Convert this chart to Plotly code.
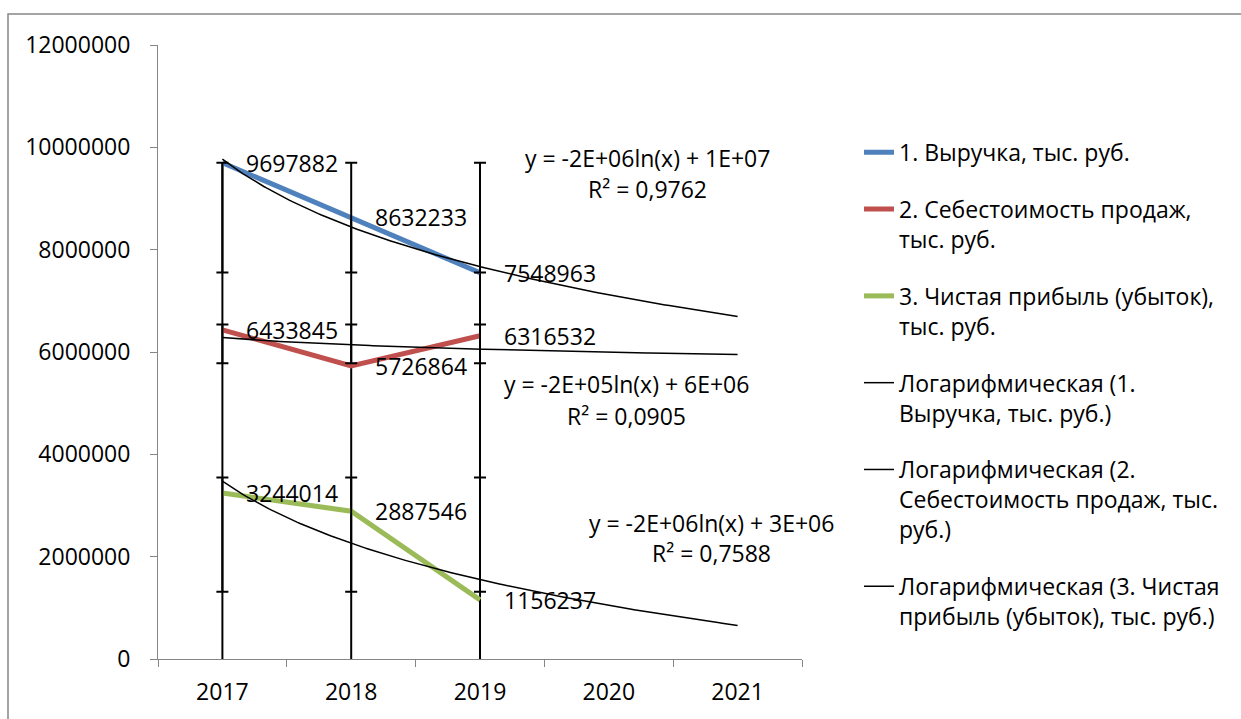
import numpy as np
import plotly.graph_objects as go

# ---------------- data ----------------
years = [2017, 2018, 2019, 2020, 2021]          # category axis (2 forecast periods)
data_years = [2017, 2018, 2019]
revenue = [9697882, 8632233, 7548963]            # 1. Выручка
cost = [6433845, 5726864, 6316532]               # 2. Себестоимость продаж
profit = [3244014, 2887546, 1156237]             # 3. Чистая прибыль (убыток)

series_names = ["1. Выручка, тыс. руб.",
                "2. Себестоимость продаж,<br>тыс. руб.",
                "3. Чистая прибыль (убыток),<br>тыс. руб."]
trend_names = ["Логарифмическая (1.<br>Выручка, тыс. руб.)",
               "Логарифмическая (2.<br>Себестоимость продаж, тыс.<br>руб.)",
               "Логарифмическая (3. Чистая<br>прибыль (убыток), тыс. руб.)"]
y_ticks = [0, 2000000, 4000000, 6000000, 8000000, 10000000, 12000000]

# ---------------- styles ----------------
colors = ["#4F81BD", "#C0504D", "#9BBB59"]
FONT = "Open Sans"
FS = 23
GRAY = "#868686"
series = [revenue, cost, profit]
# equation label positions (x in years, y in values)
eq_pos = [(2020.30, 9.80e6, 9.18e6), (2020.14, 5.38e6, 4.75e6), (2020.80, 2.65e6, 2.07e6)]

fig = go.Figure()

# drop lines (from highest point of each category down to the axis)
dx, dy = [], []
for i, yr in enumerate(data_years):
    top = max(s[i] for s in series)
    dx += [yr, yr, None]
    dy += [0, top, None]
fig.add_trace(go.Scatter(x=dx, y=dy, mode="lines", line=dict(color="black", width=2),
                         showlegend=False, hoverinfo="skip"))

# series lines
for k, (s, name, c) in enumerate(zip(series, series_names, colors)):
    fig.add_trace(go.Scatter(x=data_years, y=s, mode="lines", name=name, legendgroup=f"s{k}",
                             line=dict(color=c, width=5)))

# standard deviation error bars (centered at series mean)
for s in series:
    arr = np.array(s, dtype=float)
    m, sd = arr.mean(), arr.std(ddof=1)
    fig.add_trace(go.Scatter(x=data_years, y=[m] * len(data_years), mode="markers",
                             marker=dict(size=1, opacity=0), showlegend=False, hoverinfo="skip",
                             error_y=dict(type="data", array=[sd] * len(data_years),
                                          color="black", thickness=2, width=6)))

# logarithmic trendlines with forecast
t_fine = np.linspace(1, len(years), 200)
annotations = []
for k, (s, name, (ex, ey1, ey2)) in enumerate(zip(series, trend_names, eq_pos)):
    t = np.arange(1, len(s) + 1)
    a, b = np.polyfit(np.log(t), s, 1)
    pred = a * np.log(t) + b
    r2 = 1 - np.sum((np.array(s) - pred) ** 2) / np.sum((np.array(s) - np.mean(s)) ** 2)
    fig.add_trace(go.Scatter(x=years[0] - 1 + t_fine, y=a * np.log(t_fine) + b, mode="lines",
                             name=name, legendgroup=f"t{k}", line=dict(color="black", width=1.5)))
    eq = f"y = {a:.0E}ln(x) + {b:.0E}"
    r2s = f"R² = {r2:.4f}".replace(".", ",")
    annotations.append(dict(x=ex, y=ey1, text=eq, showarrow=False, xanchor="center",
                            font=dict(family=FONT, size=FS, color="black")))
    annotations.append(dict(x=ex, y=ey2, text=r2s, showarrow=False, xanchor="center",
                            font=dict(family=FONT, size=FS, color="black")))

# data labels
for s in series:
    for yr, v in zip(data_years, s):
        annotations.append(dict(x=yr, y=v, text=str(v), showarrow=False, xanchor="left",
                                yanchor="middle", xshift=22,
                                font=dict(family=FONT, size=FS, color="black")))

L, R, T, B = 158, 439, 45, 58
W, H = 1241, 719
pw, ph = W - L - R, H - T - B

fig.update_layout(
    width=W, height=H, autosize=False,
    margin=dict(l=L, r=R, t=T, b=B),
    paper_bgcolor="white", plot_bgcolor="white",
    font=dict(family=FONT, size=FS, color="black"),
    annotations=annotations,
    legend=dict(x=(859 - L) / pw, y=(661 - 131) / ph, xanchor="left", yanchor="top",
                valign="top", tracegroupgap=24, font=dict(family=FONT, size=FS),
                bgcolor="rgba(0,0,0,0)"),
    shapes=[dict(type="rect", xref="paper", yref="paper",
                 x0=(8 - L) / pw, x1=(1260 - L) / pw, y0=(661 - 740) / ph, y1=(661 - 14) / ph,
                 line=dict(color=GRAY, width=1.5), fillcolor="rgba(0,0,0,0)", layer="below")],
    xaxis=dict(range=[years[0] - 0.5, years[-1] + 0.5], tickvals=years,
               ticktext=[str(y) for y in years], ticks="", showgrid=False, zeroline=False,
               showline=True, linecolor=GRAY, linewidth=1, ticklabelstandoff=12,
               minor=dict(tickvals=[y - 0.5 for y in years] + [years[-1] + 0.5],
                          ticks="outside", ticklen=7, tickcolor=GRAY, showgrid=False)),
    yaxis=dict(range=[0, 12000000], tickvals=y_ticks, tickformat="d", ticks="outside",
               ticklen=7, tickcolor=GRAY, showgrid=False, zeroline=False, showline=True,
               linecolor=GRAY, linewidth=1, ticklabelstandoff=15),
)

fig.write_html("out.html")
